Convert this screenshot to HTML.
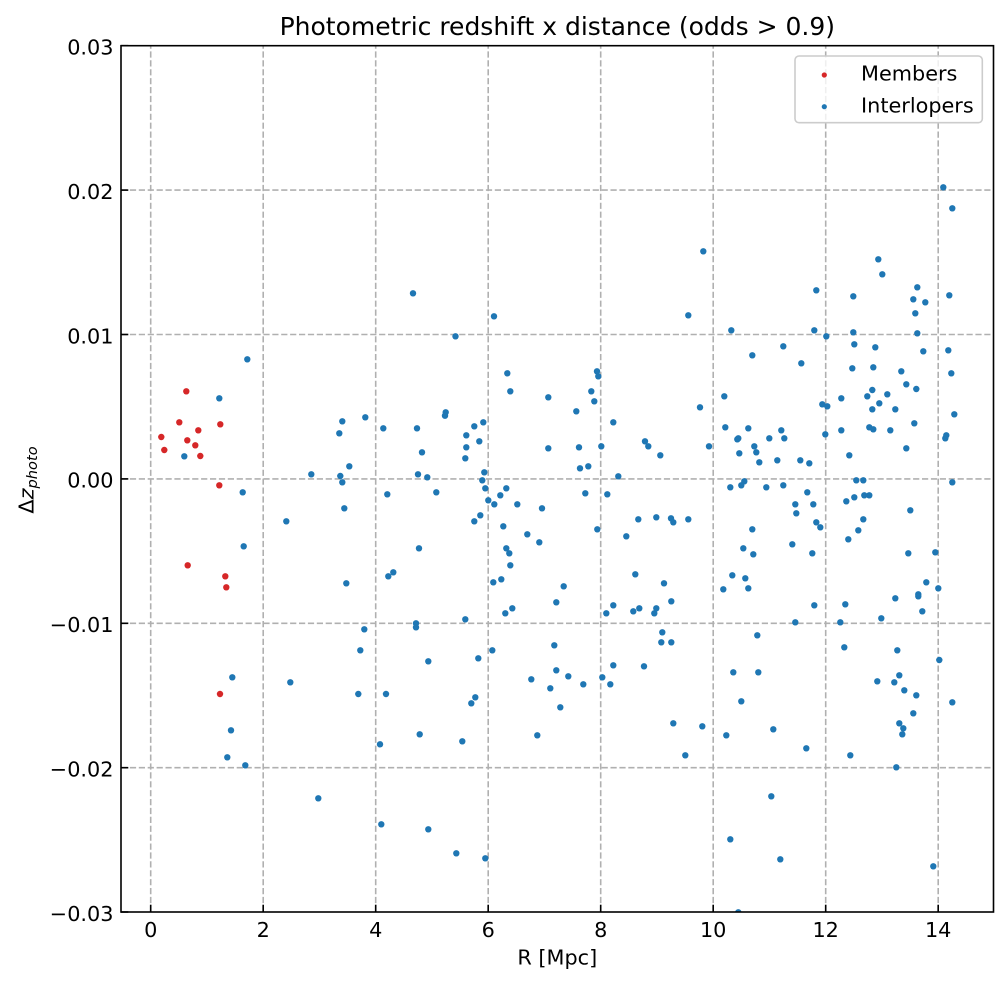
<!DOCTYPE html>
<html>
<head>
<meta charset="utf-8">
<style>
html,body{margin:0;padding:0;background:#fff;}
svg{display:block;}
text{font-family:"DejaVu Sans","Liberation Sans",sans-serif;fill:#000;}
</style>
</head>
<body>
<svg width="1008" height="983" viewBox="0 0 1008 983" xmlns="http://www.w3.org/2000/svg">
<rect x="0" y="0" width="1008" height="983" fill="#fff"/>
<defs>
<clipPath id="ax"><rect x="121" y="45.7" width="872.5" height="866.4"/></clipPath>
</defs>
<!-- grid -->
<g stroke="#b0b0b0" stroke-width="1.6" stroke-dasharray="6.2,2.7" fill="none">
<line x1="150.7" y1="912" x2="150.7" y2="45.7"/>
<line x1="263.2" y1="912" x2="263.2" y2="45.7"/>
<line x1="375.7" y1="912" x2="375.7" y2="45.7"/>
<line x1="488.2" y1="912" x2="488.2" y2="45.7"/>
<line x1="600.7" y1="912" x2="600.7" y2="45.7"/>
<line x1="713.2" y1="912" x2="713.2" y2="45.7"/>
<line x1="825.7" y1="912" x2="825.7" y2="45.7"/>
<line x1="938.2" y1="912" x2="938.2" y2="45.7"/>
<line x1="121" y1="190.1" x2="993.5" y2="190.1"/>
<line x1="121" y1="334.5" x2="993.5" y2="334.5"/>
<line x1="121" y1="478.9" x2="993.5" y2="478.9"/>
<line x1="121" y1="623.3" x2="993.5" y2="623.3"/>
<line x1="121" y1="767.7" x2="993.5" y2="767.7"/>
</g>
<g clip-path="url(#ax)">
<!-- members -->
<g fill="#d62728">
<circle cx="186.3" cy="391.3" r="3.2"/><circle cx="179.3" cy="422.3" r="3.2"/><circle cx="198.3" cy="430.3" r="3.2"/><circle cx="161.3" cy="437" r="3.2"/><circle cx="187.3" cy="440.3" r="3.2"/><circle cx="195.3" cy="445.3" r="3.2"/><circle cx="164.3" cy="450" r="3.2"/><circle cx="200.3" cy="456" r="3.2"/><circle cx="220.3" cy="424.3" r="3.2"/><circle cx="219.3" cy="485.3" r="3.2"/><circle cx="187.7" cy="565.3" r="3.2"/><circle cx="225.3" cy="576.3" r="3.2"/><circle cx="226.3" cy="587.3" r="3.2"/><circle cx="220" cy="694" r="3.2"/>
</g>
<!-- interlopers -->
<g fill="#1f77b4">
<circle cx="247.3" cy="359.3" r="3.2"/><circle cx="219.3" cy="398.3" r="3.2"/><circle cx="184.3" cy="456.3" r="3.2"/><circle cx="242.7" cy="492.3" r="3.2"/><circle cx="243.7" cy="546.3" r="3.2"/><circle cx="286.3" cy="521.3" r="3.2"/><circle cx="311.3" cy="474.3" r="3.2"/><circle cx="342.3" cy="421.3" r="3.2"/><circle cx="339.3" cy="433.3" r="3.2"/><circle cx="365.3" cy="417.3" r="3.2"/><circle cx="349.3" cy="466.3" r="3.2"/><circle cx="340.3" cy="476" r="3.2"/><circle cx="342.3" cy="482.3" r="3.2"/><circle cx="344.3" cy="508.3" r="3.2"/><circle cx="346.3" cy="583.3" r="3.2"/><circle cx="383.3" cy="428.3" r="3.2"/><circle cx="417" cy="428.3" r="3.2"/><circle cx="422" cy="452.3" r="3.2"/><circle cx="418" cy="474.3" r="3.2"/><circle cx="387.3" cy="494.3" r="3.2"/><circle cx="419" cy="548.3" r="3.2"/><circle cx="388.3" cy="576.3" r="3.2"/><circle cx="393.3" cy="572.3" r="3.2"/><circle cx="364.3" cy="629.3" r="3.2"/><circle cx="416" cy="623.3" r="3.2"/><circle cx="416" cy="627.3" r="3.2"/>
<circle cx="360.3" cy="650.3" r="3.2"/><circle cx="232.3" cy="677.3" r="3.2"/><circle cx="290.3" cy="682.3" r="3.2"/><circle cx="358.3" cy="694" r="3.2"/><circle cx="386" cy="694" r="3.2"/><circle cx="231" cy="730.3" r="3.2"/><circle cx="380" cy="744.3" r="3.2"/><circle cx="419.7" cy="734.3" r="3.2"/><circle cx="227.3" cy="757.3" r="3.2"/><circle cx="245.3" cy="765.3" r="3.2"/><circle cx="318.3" cy="798.3" r="3.2"/><circle cx="381.3" cy="824.3" r="3.2"/>
<circle cx="413" cy="293.3" r="3.2"/><circle cx="703.3" cy="251.3" r="3.2"/><circle cx="494" cy="316.3" r="3.2"/><circle cx="688.3" cy="315.3" r="3.2"/><circle cx="455.5" cy="336.3" r="3.2"/><circle cx="507.3" cy="373.3" r="3.2"/><circle cx="510.3" cy="391.3" r="3.2"/><circle cx="548.3" cy="397.3" r="3.2"/><circle cx="597" cy="371.3" r="3.2"/><circle cx="598.3" cy="376.3" r="3.2"/><circle cx="591.3" cy="391.3" r="3.2"/><circle cx="594.3" cy="401.3" r="3.2"/><circle cx="576.3" cy="411.3" r="3.2"/><circle cx="613.3" cy="422.3" r="3.2"/><circle cx="700" cy="407.3" r="3.2"/><circle cx="445.7" cy="412.3" r="3.2"/><circle cx="445" cy="415.7" r="3.2"/><circle cx="483.3" cy="422.3" r="3.2"/><circle cx="474.3" cy="426.3" r="3.2"/><circle cx="466.3" cy="435.3" r="3.2"/><circle cx="479.3" cy="441.3" r="3.2"/><circle cx="466.3" cy="447.3" r="3.2"/><circle cx="465.3" cy="458.3" r="3.2"/><circle cx="548.3" cy="448.3" r="3.2"/><circle cx="579" cy="447.3" r="3.2"/><circle cx="601.3" cy="446.3" r="3.2"/><circle cx="645" cy="441.3" r="3.2"/><circle cx="648.3" cy="446.3" r="3.2"/><circle cx="660.3" cy="455.3" r="3.2"/><circle cx="709" cy="446.3" r="3.2"/><circle cx="427.3" cy="477.3" r="3.2"/><circle cx="484.3" cy="472.3" r="3.2"/><circle cx="482.3" cy="480.3" r="3.2"/><circle cx="485.3" cy="488.3" r="3.2"/><circle cx="488.3" cy="500.3" r="3.2"/><circle cx="494.3" cy="504.3" r="3.2"/><circle cx="500.3" cy="495.3" r="3.2"/><circle cx="506.3" cy="488.3" r="3.2"/><circle cx="517.3" cy="504.3" r="3.2"/><circle cx="542" cy="508.3" r="3.2"/><circle cx="580" cy="468.3" r="3.2"/><circle cx="588.3" cy="466.3" r="3.2"/><circle cx="618.3" cy="476.3" r="3.2"/><circle cx="585.3" cy="493.3" r="3.2"/><circle cx="607.3" cy="494.3" r="3.2"/><circle cx="436.3" cy="492.3" r="3.2"/><circle cx="474.3" cy="521.3" r="3.2"/><circle cx="480.3" cy="515.3" r="3.2"/><circle cx="503.3" cy="526.3" r="3.2"/><circle cx="527.3" cy="534.3" r="3.2"/><circle cx="539.3" cy="542.3" r="3.2"/><circle cx="506.3" cy="548.3" r="3.2"/><circle cx="509.3" cy="553.3" r="3.2"/><circle cx="510.3" cy="565.3" r="3.2"/><circle cx="597.3" cy="529.3" r="3.2"/><circle cx="626.3" cy="536.3" r="3.2"/><circle cx="638.3" cy="519.3" r="3.2"/><circle cx="656.3" cy="517.3" r="3.2"/><circle cx="671" cy="518.3" r="3.2"/><circle cx="673.3" cy="522.3" r="3.2"/><circle cx="688.3" cy="519.3" r="3.2"/>
<circle cx="635.3" cy="574.3" r="3.2"/><circle cx="493.3" cy="582.3" r="3.2"/><circle cx="501.3" cy="579.3" r="3.2"/><circle cx="563.7" cy="586.3" r="3.2"/><circle cx="664" cy="583.3" r="3.2"/><circle cx="671.3" cy="601.3" r="3.2"/><circle cx="556.3" cy="602.3" r="3.2"/><circle cx="505.3" cy="613.3" r="3.2"/><circle cx="512.3" cy="608.3" r="3.2"/><circle cx="465.3" cy="619.3" r="3.2"/><circle cx="606.3" cy="613.3" r="3.2"/><circle cx="613.3" cy="605.3" r="3.2"/><circle cx="633.3" cy="611.3" r="3.2"/><circle cx="639.3" cy="608.3" r="3.2"/><circle cx="654.3" cy="613.3" r="3.2"/><circle cx="656.3" cy="608.3" r="3.2"/><circle cx="662.3" cy="632.3" r="3.2"/><circle cx="661.3" cy="642.3" r="3.2"/><circle cx="671.3" cy="642.3" r="3.2"/><circle cx="492.3" cy="650.3" r="3.2"/><circle cx="478.3" cy="658.3" r="3.2"/><circle cx="428.3" cy="661.3" r="3.2"/><circle cx="554.3" cy="645.3" r="3.2"/><circle cx="613.3" cy="665.3" r="3.2"/><circle cx="644" cy="666.3" r="3.2"/><circle cx="531.3" cy="679.3" r="3.2"/><circle cx="556.3" cy="670.3" r="3.2"/><circle cx="568.3" cy="676.3" r="3.2"/><circle cx="550.3" cy="688.3" r="3.2"/><circle cx="583.3" cy="684.3" r="3.2"/><circle cx="602.3" cy="677.3" r="3.2"/><circle cx="610.3" cy="684.3" r="3.2"/><circle cx="475.3" cy="697.3" r="3.2"/><circle cx="471.3" cy="703.3" r="3.2"/><circle cx="560.3" cy="707.3" r="3.2"/><circle cx="462.3" cy="741.3" r="3.2"/><circle cx="537.3" cy="735.3" r="3.2"/><circle cx="673.3" cy="723.3" r="3.2"/><circle cx="702.3" cy="726.3" r="3.2"/><circle cx="685.3" cy="755.3" r="3.2"/><circle cx="428.3" cy="829.3" r="3.2"/><circle cx="456.3" cy="853.3" r="3.2"/><circle cx="485.3" cy="858.3" r="3.2"/>
<circle cx="943.3" cy="187.3" r="3.2"/><circle cx="952.3" cy="208.3" r="3.2"/><circle cx="878.3" cy="259.3" r="3.2"/><circle cx="882.3" cy="274.3" r="3.2"/><circle cx="816.3" cy="290.3" r="3.2"/><circle cx="853.3" cy="296.3" r="3.2"/><circle cx="917.3" cy="287.3" r="3.2"/><circle cx="913.3" cy="299.3" r="3.2"/><circle cx="925.3" cy="302.3" r="3.2"/><circle cx="949.3" cy="295.3" r="3.2"/><circle cx="915.3" cy="313.3" r="3.2"/><circle cx="731.3" cy="330.3" r="3.2"/><circle cx="814.3" cy="330.3" r="3.2"/><circle cx="826.3" cy="336.3" r="3.2"/><circle cx="853.3" cy="332.3" r="3.2"/><circle cx="917.3" cy="333.3" r="3.2"/><circle cx="783.3" cy="346.3" r="3.2"/><circle cx="752.3" cy="355.3" r="3.2"/><circle cx="801.3" cy="363.3" r="3.2"/><circle cx="854.3" cy="344.3" r="3.2"/><circle cx="875.3" cy="347.3" r="3.2"/><circle cx="923.3" cy="351.3" r="3.2"/><circle cx="948.3" cy="350.3" r="3.2"/><circle cx="852.3" cy="368.3" r="3.2"/><circle cx="873.3" cy="367.3" r="3.2"/><circle cx="901.3" cy="371.3" r="3.2"/><circle cx="951.3" cy="373.3" r="3.2"/><circle cx="906.3" cy="384.3" r="3.2"/><circle cx="916.3" cy="389" r="3.2"/><circle cx="872.3" cy="390" r="3.2"/>
<circle cx="724.3" cy="396.3" r="3.2"/><circle cx="822.3" cy="404.3" r="3.2"/><circle cx="827.3" cy="406.3" r="3.2"/><circle cx="841.3" cy="398.3" r="3.2"/><circle cx="867.3" cy="396.3" r="3.2"/><circle cx="887.3" cy="394.3" r="3.2"/><circle cx="879.3" cy="403.3" r="3.2"/><circle cx="872.3" cy="409.3" r="3.2"/><circle cx="895.3" cy="409.3" r="3.2"/><circle cx="954.3" cy="414.3" r="3.2"/><circle cx="914.3" cy="423.3" r="3.2"/><circle cx="725.3" cy="427.3" r="3.2"/><circle cx="748.3" cy="428.3" r="3.2"/><circle cx="737.3" cy="439.3" r="3.2"/><circle cx="738.3" cy="438.3" r="3.2"/><circle cx="769.3" cy="438.3" r="3.2"/><circle cx="781.3" cy="430.3" r="3.2"/><circle cx="784.3" cy="438.3" r="3.2"/><circle cx="825.3" cy="434.3" r="3.2"/><circle cx="841.3" cy="430.3" r="3.2"/><circle cx="869.3" cy="427.3" r="3.2"/><circle cx="873.3" cy="429.3" r="3.2"/><circle cx="890.3" cy="430.3" r="3.2"/><circle cx="945.3" cy="438.3" r="3.2"/><circle cx="946.3" cy="435.3" r="3.2"/><circle cx="754.3" cy="446.3" r="3.2"/><circle cx="756.3" cy="452.3" r="3.2"/><circle cx="739.3" cy="453.3" r="3.2"/><circle cx="759.3" cy="462.3" r="3.2"/><circle cx="777.3" cy="460.3" r="3.2"/><circle cx="800.3" cy="460.3" r="3.2"/><circle cx="809.3" cy="463.3" r="3.2"/><circle cx="849.3" cy="455.3" r="3.2"/><circle cx="906.3" cy="448.3" r="3.2"/><circle cx="856.3" cy="480.3" r="3.2"/><circle cx="863.3" cy="480.3" r="3.2"/><circle cx="952.3" cy="482.3" r="3.2"/><circle cx="730.3" cy="487.3" r="3.2"/><circle cx="741.3" cy="485.3" r="3.2"/><circle cx="744.3" cy="481.3" r="3.2"/><circle cx="766.3" cy="487.3" r="3.2"/><circle cx="783.3" cy="485.3" r="3.2"/><circle cx="807.3" cy="492.3" r="3.2"/><circle cx="795.3" cy="504.3" r="3.2"/><circle cx="813.3" cy="504.3" r="3.2"/><circle cx="796.3" cy="513.3" r="3.2"/><circle cx="846.3" cy="501.3" r="3.2"/><circle cx="854.3" cy="497.3" r="3.2"/><circle cx="864.3" cy="495.3" r="3.2"/><circle cx="869.3" cy="495.3" r="3.2"/><circle cx="910.3" cy="510.3" r="3.2"/><circle cx="816.3" cy="522.3" r="3.2"/><circle cx="820.3" cy="527.3" r="3.2"/><circle cx="863.3" cy="519.3" r="3.2"/><circle cx="858.3" cy="530.3" r="3.2"/><circle cx="848.3" cy="539.3" r="3.2"/><circle cx="752.3" cy="529.3" r="3.2"/><circle cx="743.3" cy="548.3" r="3.2"/><circle cx="753.3" cy="554.3" r="3.2"/><circle cx="792.3" cy="544.3" r="3.2"/><circle cx="812.3" cy="553.3" r="3.2"/><circle cx="908.3" cy="553.3" r="3.2"/><circle cx="935.3" cy="552.3" r="3.2"/><circle cx="732.3" cy="575.3" r="3.2"/><circle cx="745.3" cy="578.3" r="3.2"/><circle cx="723.3" cy="589.3" r="3.2"/><circle cx="748.3" cy="588.3" r="3.2"/><circle cx="926.3" cy="582.3" r="3.2"/><circle cx="938.3" cy="588.3" r="3.2"/><circle cx="895.3" cy="598.3" r="3.2"/><circle cx="918.3" cy="594.3" r="3.2"/><circle cx="918.3" cy="596.3" r="3.2"/><circle cx="922.3" cy="611.3" r="3.2"/><circle cx="814.3" cy="605.3" r="3.2"/><circle cx="845.3" cy="604.3" r="3.2"/><circle cx="881.3" cy="618.3" r="3.2"/><circle cx="795.3" cy="622.3" r="3.2"/><circle cx="840.3" cy="622.3" r="3.2"/><circle cx="757.3" cy="635.3" r="3.2"/><circle cx="844.3" cy="647.3" r="3.2"/><circle cx="897.3" cy="650.3" r="3.2"/><circle cx="939.3" cy="660" r="3.2"/>
<circle cx="733.3" cy="672.3" r="3.2"/><circle cx="758.3" cy="672.3" r="3.2"/><circle cx="877.3" cy="681.3" r="3.2"/><circle cx="894.3" cy="682.3" r="3.2"/><circle cx="899.3" cy="675.3" r="3.2"/><circle cx="904.3" cy="690.3" r="3.2"/><circle cx="916.3" cy="695.3" r="3.2"/><circle cx="952.3" cy="702.3" r="3.2"/><circle cx="741.3" cy="701.3" r="3.2"/><circle cx="913.3" cy="713.3" r="3.2"/><circle cx="726.3" cy="735.3" r="3.2"/><circle cx="773.3" cy="729.3" r="3.2"/><circle cx="899.3" cy="723.3" r="3.2"/><circle cx="903.3" cy="728.3" r="3.2"/><circle cx="902.3" cy="734.3" r="3.2"/><circle cx="806.3" cy="748.3" r="3.2"/><circle cx="850.3" cy="755.3" r="3.2"/><circle cx="896.3" cy="767.3" r="3.2"/><circle cx="771.3" cy="796.3" r="3.2"/><circle cx="730.3" cy="839.3" r="3.2"/><circle cx="780.3" cy="859.3" r="3.2"/><circle cx="933.3" cy="866.3" r="3.2"/><circle cx="738.3" cy="912.3" r="3.2"/>
</g>
</g>
<!-- ticks (inward) -->
<g stroke="#000" stroke-width="1.6">
<line x1="150.7" y1="912" x2="150.7" y2="904.7"/>
<line x1="263.2" y1="912" x2="263.2" y2="904.7"/>
<line x1="375.7" y1="912" x2="375.7" y2="904.7"/>
<line x1="488.2" y1="912" x2="488.2" y2="904.7"/>
<line x1="600.7" y1="912" x2="600.7" y2="904.7"/>
<line x1="713.2" y1="912" x2="713.2" y2="904.7"/>
<line x1="825.7" y1="912" x2="825.7" y2="904.7"/>
<line x1="938.2" y1="912" x2="938.2" y2="904.7"/>
<line x1="121" y1="45.7" x2="128.3" y2="45.7"/>
<line x1="121" y1="190.1" x2="128.3" y2="190.1"/>
<line x1="121" y1="334.5" x2="128.3" y2="334.5"/>
<line x1="121" y1="478.9" x2="128.3" y2="478.9"/>
<line x1="121" y1="623.3" x2="128.3" y2="623.3"/>
<line x1="121" y1="767.7" x2="128.3" y2="767.7"/>
<line x1="121" y1="912" x2="128.3" y2="912"/>
</g>
<!-- spines -->
<rect x="121" y="45.7" width="872.5" height="866.3" fill="none" stroke="#000" stroke-width="1.6"/>
<!-- tick labels -->
<g font-size="20.8" text-anchor="middle">
<text x="150.7" y="937">0</text>
<text x="263.2" y="937">2</text>
<text x="375.7" y="937">4</text>
<text x="488.2" y="937">6</text>
<text x="600.7" y="937">8</text>
<text x="713.2" y="937">10</text>
<text x="825.7" y="937">12</text>
<text x="938.2" y="937">14</text>
</g>
<g font-size="20.8" text-anchor="end">
<text x="113.5" y="54.5">0.03</text>
<text x="113.5" y="198.9">0.02</text>
<text x="113.5" y="343.3">0.01</text>
<text x="113.5" y="487.7">0.00</text>
<text x="113.5" y="632.1">−0.01</text>
<text x="113.5" y="776.5">−0.02</text>
<text x="113.5" y="920.8">−0.03</text>
</g>
<!-- axis labels -->
<text x="557.3" y="964.5" font-size="20.8" text-anchor="middle">R [Mpc]</text>
<text transform="translate(33.5,480) rotate(-90)" font-size="20.8" text-anchor="middle">Δ<tspan font-style="italic">z</tspan><tspan font-style="italic" font-size="14.6" dy="3.6">photo</tspan></text>
<!-- title -->
<text x="557.3" y="35" font-size="25" text-anchor="middle">Photometric redshift x distance (odds &gt; 0.9)</text>
<!-- legend -->
<rect x="795" y="56" width="187.3" height="66.7" rx="4" ry="4" fill="#fff" fill-opacity="0.8" stroke="#cccccc" stroke-width="1.6"/>
<circle cx="824.3" cy="75" r="2.6" fill="#d62728"/>
<circle cx="824.3" cy="106.7" r="2.6" fill="#1f77b4"/>
<text x="861" y="80.7" font-size="20.8">Members</text>
<text x="861" y="112.3" font-size="20.8">Interlopers</text>
</svg>
</body>
</html>
